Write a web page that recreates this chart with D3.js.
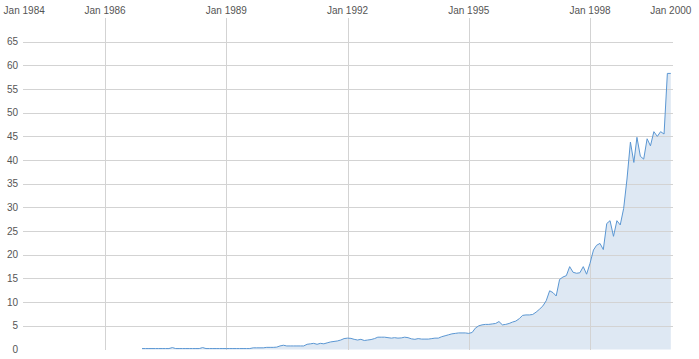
<!DOCTYPE html>
<html>
<head>
<meta charset="utf-8">
<script src="https://cdn.jsdelivr.net/npm/d3@7"></script>
<style>
    body { margin: 0; background: #fff; }
    text { font-family: "Liberation Sans", Arial, sans-serif; font-size: 10px; fill: #555; }
</style>
</head>
<body>
<script>
"use strict";

// monthly values, series starts Dec 1986
var firstYear = 1986, firstMonth = 11;
var v1986 = [0.2];
var v1987 = [0.2, 0.2, 0.2, 0.2, 0.2, 0.2, 0.2, 0.2, 0.4, 0.2, 0.2, 0.2];
var v1988 = [0.2, 0.2, 0.2, 0.2, 0.2, 0.4, 0.2, 0.2, 0.2, 0.2, 0.2, 0.2];
var v1989 = [0.2, 0.2, 0.2, 0.2, 0.2, 0.2, 0.2, 0.2, 0.35, 0.35, 0.35, 0.35];
var v1990 = [0.45, 0.45, 0.45, 0.5, 0.75, 0.9, 0.75, 0.75, 0.75, 0.75, 0.75, 0.75];
var v1991 = [1.1, 1.2, 1.3, 1.1, 1.3, 1.2, 1.4, 1.6, 1.7, 1.8, 2.0, 2.3];
var v1992 = [2.4, 2.35, 2.15, 2.0, 2.15, 1.9, 2.0, 2.1, 2.3, 2.6, 2.6, 2.6];
var v1993 = [2.5, 2.4, 2.5, 2.4, 2.45, 2.6, 2.5, 2.25, 2.15, 2.3, 2.2, 2.2];
var v1994 = [2.2, 2.3, 2.4, 2.4, 2.7, 2.9, 3.1, 3.3, 3.4, 3.5, 3.5, 3.5];
var v1995 = [3.4, 3.6, 4.5, 5.0, 5.2, 5.3, 5.3, 5.4, 5.5, 5.9, 5.2, 5.3];
var v1996 = [5.5, 5.8, 6.0, 6.5, 7.2, 7.3, 7.3, 7.4, 7.9, 8.5, 9.2, 10.3];
var v1997 = [12.4, 12.0, 11.3, 14.8, 15.3, 15.6, 17.5, 16.3, 16.1, 16.2, 17.5, 15.9];
var v1998 = [18.2, 21.0, 22.0, 22.4, 21.1, 26.6, 27.2, 23.9, 27.2, 26.3, 29.8, 36.0];
var v1999 = [43.8, 39.5, 44.8, 40.8, 40.2, 44.5, 43.0, 46.0, 45.0, 46.0, 45.5, 58.3];
var v2000 = [58.3];

var tickYears = [1984, 1986, 1989, 1992, 1995, 1998, 2000];
var yTicks = [0, 5, 10, 15, 20, 25, 30, 35, 40, 45, 50, 55, 60, 65];

function buildSeries() {
    var all = [].concat(v1986, v1987, v1988, v1989, v1990, v1991, v1992,
        v1993, v1994, v1995, v1996, v1997, v1998, v1999, v2000);
    return all.map(function (v, i) {
        return { date: new Date(firstYear, firstMonth + i, 1), value: v };
    });
}

function baseCanvas(width, height) {
    return d3.select("body")
        .append("svg")
        .attr("width", width)
        .attr("height", height);
}

var widthEcran = 699, heightEcran = 359;
var canvas = baseCanvas(widthEcran, heightEcran);
var data = buildSeries();

var x = d3.scaleTime()
    .domain([new Date(1984, 0, 1), new Date(2000, 0, 1)])
    .range([24.2, 670.8]);
var y = d3.scaleLinear()
    .domain([0, 70])
    .range([349.5, 18]);

var area = d3.area()
    .x(function (d) { return x(d.date); })
    .y0(y(0))
    .y1(function (d) { return y(d.value); });
var line = d3.line()
    .x(function (d) { return x(d.date); })
    .y(function (d) { return y(d.value); });

canvas.append("path")
    .datum(data)
    .attr("d", area)
    .attr("fill", "#dee8f3");

// horizontal grid
canvas.append("g")
    .selectAll("line")
    .data(yTicks.filter(function (d) { return d > 0; }))
    .enter().append("line")
    .attr("x1", 23)
    .attr("x2", 673)
    .attr("y1", function (d) { return Math.round(y(d)) + 0.5; })
    .attr("y2", function (d) { return Math.round(y(d)) + 0.5; })
    .attr("stroke", "#d3d3d3")
    .attr("stroke-width", 1);

// vertical grid
canvas.append("g")
    .selectAll("line")
    .data(tickYears.filter(function (d) { return d > 1984 && d < 2000; }))
    .enter().append("line")
    .attr("x1", function (d) { return Math.round(x(new Date(d, 0, 1))) + 0.5; })
    .attr("x2", function (d) { return Math.round(x(new Date(d, 0, 1))) + 0.5; })
    .attr("y1", 18)
    .attr("y2", 350)
    .attr("stroke", "#d3d3d3")
    .attr("stroke-width", 1);

canvas.append("path")
    .datum(data)
    .attr("d", line)
    .attr("fill", "none")
    .attr("stroke", "#5b97d3")
    .attr("stroke-width", 1);

// x labels on top
canvas.append("g")
    .selectAll("text")
    .data(tickYears)
    .enter().append("text")
    .attr("x", function (d) {
        var px = x(new Date(d, 0, 1));
        return Math.max(px, 22);
    })
    .attr("y", 14)
    .attr("text-anchor", "middle")
    .text(function (d) { return "Jan " + d; });

// y labels
canvas.append("g")
    .selectAll("text")
    .data(yTicks)
    .enter().append("text")
    .attr("x", 18)
    .attr("y", function (d) { return y(d) + 3.5; })
    .attr("text-anchor", "end")
    .text(function (d) { return d; });
</script>
</body>
</html>
